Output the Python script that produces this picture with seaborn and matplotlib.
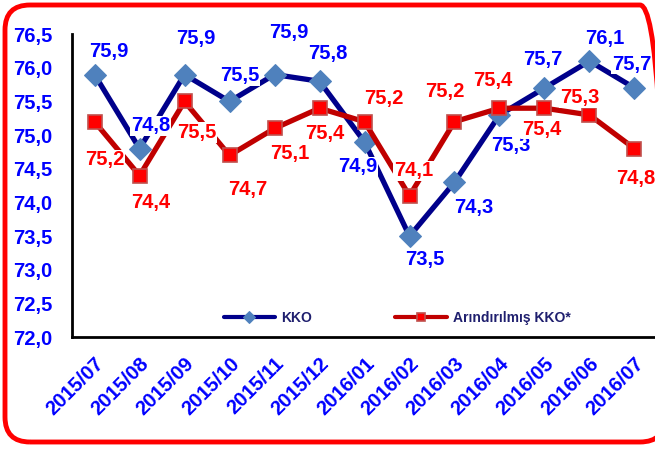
import matplotlib
matplotlib.use("Agg")
import matplotlib.pyplot as plt
from matplotlib.patches import FancyBboxPatch
from matplotlib.ticker import FixedLocator
import seaborn as sns
import pandas as pd

# data
months = ["2015/07", "2015/08", "2015/09", "2015/10", "2015/11", "2015/12", "2016/01",
          "2016/02", "2016/03", "2016/04", "2016/05", "2016/06", "2016/07"]
kko = [75.9, 74.8, 75.9, 75.5, 75.9, 75.8, 74.9, 73.5, 74.3, 75.3, 75.7, 76.1, 75.7]
kko_arin = [75.2, 74.4, 75.5, 74.7, 75.1, 75.4, 75.2, 74.1, 75.2, 75.4, 75.4, 75.3, 74.8]

# label offsets (pixels) for each data label
kko_off = [(14, 23), (11, 23), (11, 36), (10, 26), (14, 42), (8, 28), (-7, -25),
           (15, -23), (19, -25), (11, -31), (-2, 29), (15, 23), (-3, 24)]
arin_off = [(10, -38), (11, -27), (12, -31), (18, -34), (15, -25), (5, -25), (19, 23),
            (4, 25), (-10, 30), (-7, 28), (-3, -21), (-10, 17), (1, -30)]

df = pd.DataFrame({"ay": months, "KKO": kko, "Arındırılmış KKO*": kko_arin})

sns.set_style("white")
plt.rcParams["font.family"] = ["Liberation Sans", "DejaVu Sans"]

fig = plt.figure(figsize=(6.55, 4.49), dpi=100)
ax = fig.add_axes([0.110, 0.249, 0.893, 0.675])

sns.lineplot(data=df, x="ay", y="KKO", ax=ax, color="#00008B", lw=3.8,
             marker="D", markersize=11, markerfacecolor="#4F81BD",
             markeredgecolor="#4F81BD", label="KKO", zorder=3)
sns.lineplot(data=df, x="ay", y="Arındırılmış KKO*", ax=ax, color="#C00000", lw=3.8,
             marker="s", markersize=10, markerfacecolor="#FF0000",
             markeredgecolor="#C0504D", markeredgewidth=1.2,
             label="Arındırılmış KKO*", zorder=3)

for i, m in enumerate(months):
    ax.annotate(f"{kko[i]:.1f}".replace(".", ","), (i, kko[i]), xytext=kko_off[i],
                textcoords="offset pixels", ha="center", va="center",
                fontsize=14.5, fontweight="bold", color="#0000FF", zorder=5,
                bbox=dict(facecolor="white", edgecolor="none", pad=0.5))
    ax.annotate(f"{kko_arin[i]:.1f}".replace(".", ","), (i, kko_arin[i]), xytext=arin_off[i],
                textcoords="offset pixels", ha="center", va="center",
                fontsize=14.5, fontweight="bold", color="#FF0000", zorder=5,
                bbox=dict(facecolor="white", edgecolor="none", pad=0.5))

ax.set_xlim(-0.5, len(months) - 0.5)
ax.set_ylim(72.0, 76.5)
ax.set_yticks([72.0 + 0.5 * k for k in range(10)])
ax.set_yticklabels([f"{72.0 + 0.5 * k:.1f}".replace(".", ",") for k in range(10)],
                   fontsize=14.5, fontweight="bold", color="#0000FF")
ax.set_xticks(range(len(months)))
ax.set_xticklabels(months, rotation=45, ha="right", rotation_mode="anchor",
                   fontsize=14.5, fontweight="bold", color="#0000FF")
ax.xaxis.set_minor_locator(FixedLocator([k - 0.5 for k in range(len(months) + 1)]))
ax.tick_params(axis="x", which="major", length=0, pad=12)
ax.tick_params(axis="x", which="minor", length=6, width=2, color="black", direction="out")
ax.tick_params(axis="y", length=5, width=2, color="black", direction="out", pad=9)
ax.set_xlabel("")
ax.set_ylabel("")

for s in ["top", "right"]:
    ax.spines[s].set_visible(False)
for s in ["left", "bottom"]:
    ax.spines[s].set_color("black")
    ax.spines[s].set_linewidth(2)

leg = ax.legend(loc="center", bbox_to_anchor=(0.556, 0.063), ncol=2, frameon=False,
                handlelength=3.7, handletextpad=0.45, columnspacing=6.0,
                prop={"weight": "bold", "size": 10})
for t in leg.get_texts():
    t.set_color("#1F1F6E")
for h in leg.get_lines():
    h.set_linewidth(3)
    h.set_markersize(6)

border = FancyBboxPatch((5, 7), 660, 437, boxstyle="round,pad=0,rounding_size=25",
                        transform=None, facecolor="none", edgecolor="#FF0000",
                        linewidth=3.5, zorder=10)
fig.patches.append(border)

fig.savefig("out.png", dpi=100)
